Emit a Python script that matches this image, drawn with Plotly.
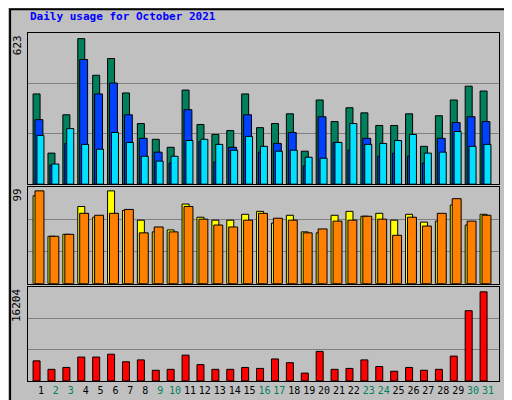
import plotly.graph_objects as go
from plotly.subplots import make_subplots

days = list(range(1, 32))
weekend = [2, 3, 9, 10, 16, 17, 23, 24, 30, 31]

hits = [372, 128, 286, 600, 449, 518, 376, 250, 185, 152, 388, 246, 205, 221, 372, 233,
        250, 290, 136, 347, 258, 315, 294, 242, 242, 290, 156, 282, 347, 404, 384]
files = [266, 79, 168, 514, 372, 417, 286, 189, 132, 87, 307, 176, 91, 152, 286, 132,
         168, 213, 75, 278, 172, 140, 189, 115, 128, 115, 87, 189, 254, 278, 258]
pages = [201, 83, 229, 164, 144, 213, 172, 115, 95, 115, 180, 185, 164, 140, 197, 156,
         136, 140, 111, 107, 172, 250, 164, 168, 180, 205, 128, 132, 217, 156, 164]
visits = [90, 48.5, 50.5, 79, 68, 95, 75, 65, 53, 55, 81.5, 68, 65, 65, 71, 74,
          62, 70, 53, 52, 70, 74, 69, 72, 65, 71, 63, 64, 80.5, 60, 71]
sites = [95, 48.5, 50.5, 72, 70, 72, 76, 52, 58, 53, 79, 66, 60, 58, 65, 72,
         67, 65, 52, 56, 64, 65, 69, 66, 49.5, 68, 59, 72, 87, 64, 70]
kbytes = [3490, 2020, 2350, 4150, 4150, 4640, 3330, 3660, 1860, 2020, 4480, 2840, 2020, 2020,
          2350, 2180, 3820, 3170, 1370, 5130, 2020, 2180, 3660, 2510, 1690, 2350, 1860,
          2020, 4310, 12180, 15450]
max_hits, max_visits, max_kb = 623, 99, 16204

fig = make_subplots(rows=3, cols=1, shared_xaxes=True)
line = dict(color="black", width=1)

def bar(y, color, off, w, row):
    fig.add_trace(go.Bar(x=days, y=y, marker=dict(color=color, line=line),
                         offset=off, width=w, showlegend=False), row=row, col=1)

bar(hits, "#00805C", -0.53, 0.47, 1)
bar(files, "#0040FF", -0.4, 0.53, 1)
bar(pages, "#00E0FF", -0.27, 0.47, 1)
bar(visits, "#FFFF00", -0.53, 0.47, 2)
bar(sites, "#FF8000", -0.4, 0.6, 2)
bar(kbytes, "#FF0000", -0.53, 0.47, 3)

font = "DejaVu Sans Mono"
fig.update_layout(
    width=512, height=400, barmode="overlay",
    margin=dict(l=20, r=21, t=24, b=25),
    paper_bgcolor="#C0C0C0", plot_bgcolor="#C0C0C0",
    font=dict(family=font, size=11, color="black"),
    yaxis=dict(domain=[0.564, 0.997]),
    yaxis2=dict(domain=[0.279, 0.556]),
    yaxis3=dict(domain=[0, 0.268]),
)
ticktext = [f"<span style='color:#008060'>{d}</span>" if d in weekend else str(d) for d in days]
for i, m in zip((1, 2, 3), (max_hits, max_visits, max_kb)):
    fig.update_yaxes(range=[0, m], tickvals=[m / 3, 2 * m / 3], showticklabels=False,
                     gridcolor="#808080", showline=True, linecolor="black", mirror=True,
                     zeroline=False, row=i, col=1)
    fig.update_xaxes(range=[0.13, 31.74], showline=True, linecolor="black", mirror=True,
                     showgrid=False, row=i, col=1)
fig.update_xaxes(tickvals=days, ticktext=ticktext, ticks="", tickangle=0,
                 tickfont=dict(size=10), row=3, col=1)

side = dict(x=1.027, xanchor="center", yanchor="middle", textangle=-90, font=dict(size=10))
ann = [
    dict(x=0, y=1.043, xanchor="left", yanchor="middle",
         text="<b>Daily usage for October 2021</b>", font=dict(color="#0000FF", size=11)),
    dict(x=-0.005, y=0.997, xanchor="right", yanchor="top", text="623", textangle=-90),
    dict(x=-0.005, y=0.556, xanchor="right", yanchor="top", text="99", textangle=-90),
    dict(x=-0.005, y=0.268, xanchor="right", yanchor="top", text="16204", textangle=-90),
    dict(y=0.78, **side,
         text="<span style='color:#00E0FF'>Pages</span> / <span style='color:#0040FF'>Files</span> / <span style='color:#00805C'>Hits</span>"),
    dict(y=0.417, **side,
         text="<span style='color:#FF8000'>Sites</span> / <span style='color:#FFFF00'>Visits</span>"),
    dict(y=0.134, **side,
         text="<span style='color:#FF0000'>kB F</span> / <span style='color:#0080FF'>kB In</span> / <span style='color:#00C000'>kB Out</span>"),
]
for a in ann:
    fig.add_annotation(xref="paper", yref="paper", showarrow=False, **a)

fig.add_shape(type="rect", xref="paper", yref="paper", x0=-0.038, x1=1.04, y0=-0.07, y1=1.065,
              line=dict(color="black", width=2))
fig.write_html("out.html")
